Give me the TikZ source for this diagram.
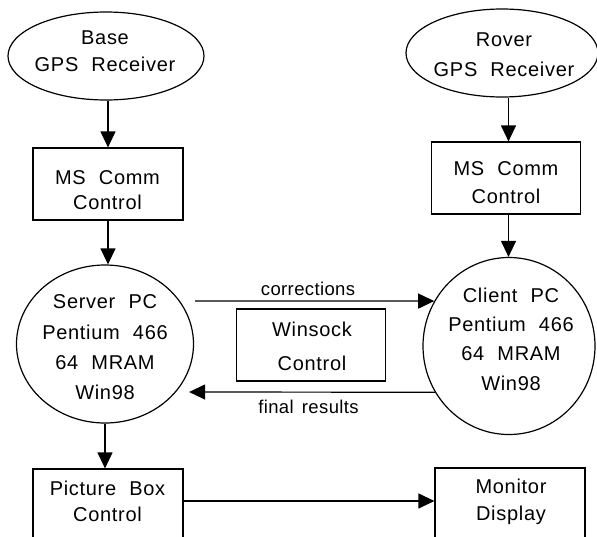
\documentclass[tikz,border=0pt]{standalone}
\usepackage{fontspec}
\setmainfont{Liberation Sans}[LetterSpace=3.5,WordSpace=2.1]
\newfontfamily\lblfont{Liberation Sans}[LetterSpace=2,WordSpace=1.5]
\usetikzlibrary{arrows.meta,shapes.geometric}
\newcommand{\txtsp}[1]{\fontsize{20}{#1}\selectfont}
\tikzset{
  every node/.style={inner sep=0pt, align=center},
  lbl/.style={font=\lblfont\fontsize{18.5}{20}\selectfont, anchor=base},
  oval/.style={draw, ellipse, line width=1.2pt},
  boxnode/.style={draw, rectangle, line width=1.2pt, minimum width=150pt, minimum height=72pt},
  arr/.style={line width=1.2pt, -{Triangle[length=16pt,width=15pt]}}
}
\begin{document}
\begin{tikzpicture}[x=1pt,y=-1pt]
\useasboundingbox (0,0) rectangle (597,536);
\clip (0,0) rectangle (597,536);
% shapes
\node[oval, minimum width=196pt, minimum height=88pt] (base) at (106,56) {};
\node[oval, minimum width=192pt, minimum height=88pt] (rover) at (502,53) {};
\node[boxnode] (box1) at (108,184) {};
\node[boxnode, minimum width=149pt] (box2) at (506,178) {};
\node[oval, minimum width=177pt, minimum height=158pt] (server) at (105,344) {};
\node[oval, minimum width=172pt, minimum height=177pt] (client) at (509,346) {};
\node[boxnode, minimum width=149pt] (winsock) at (311,345) {};
\node[boxnode] (picbox) at (108,505) {};
\node[boxnode] (monitor) at (510,504) {};
% texts
\node[font=\txtsp{27}] (baset) at (105,51.5) {Base\\GPS Receiver};
\node[font=\txtsp{30}] (rovert) at (504,55) {Rover\\GPS Receiver};
\node[font=\txtsp{25}] (box1t) at (107.5,190) {MS Comm\\Control};
\node[font=\txtsp{28}] (box2t) at (506,182.5) {MS Comm\\Control};
\node[font=\txtsp{30.3}] (servert) at (105,347.5) {Server PC\\Pentium 466\\64 MRAM\\Win98};
\node[font=\txtsp{29.3}] (clientt) at (511,339) {Client PC\\Pentium 466\\64 MRAM\\Win98};
\node[font=\txtsp{34}] (winsockt) at (312,346) {Winsock\\Control};
\node[font=\txtsp{26}] (picboxt) at (107.5,501) {Picture Box\\Control};
\node[font=\txtsp{27}] (monitort) at (511,501.5) {Monitor\\Display};
\node[lbl] (corr) at (308,295.5) {corrections};
\node[lbl] (final) at (308.5,413.3) {final results};
% connectors
\draw[arr] (box1.north |- base.south) -- (box1.north);
\draw[arr] (box1.south) -- (box1.south |- server.north);
\draw[arr] (server.south) -- (server.south |- picbox.north);
\draw[arr] ([xshift=2.5pt]box2.north |- rover.south) -- ([xshift=2.5pt]box2.north);
\draw[arr] ([xshift=2.5pt]box2.south) -- ([xshift=2.5pt]box2.south |- client.north);
\draw[arr] ([shift={(1,-43)}]server.east) -- (client.149);
\draw[arr] (client.212) -- ([shift={(-5,48)}]server.east);
\draw[arr] ([yshift=4pt]picbox.east) -- ([yshift=4pt]picbox.east -| monitor.west);
\end{tikzpicture}
\end{document}
